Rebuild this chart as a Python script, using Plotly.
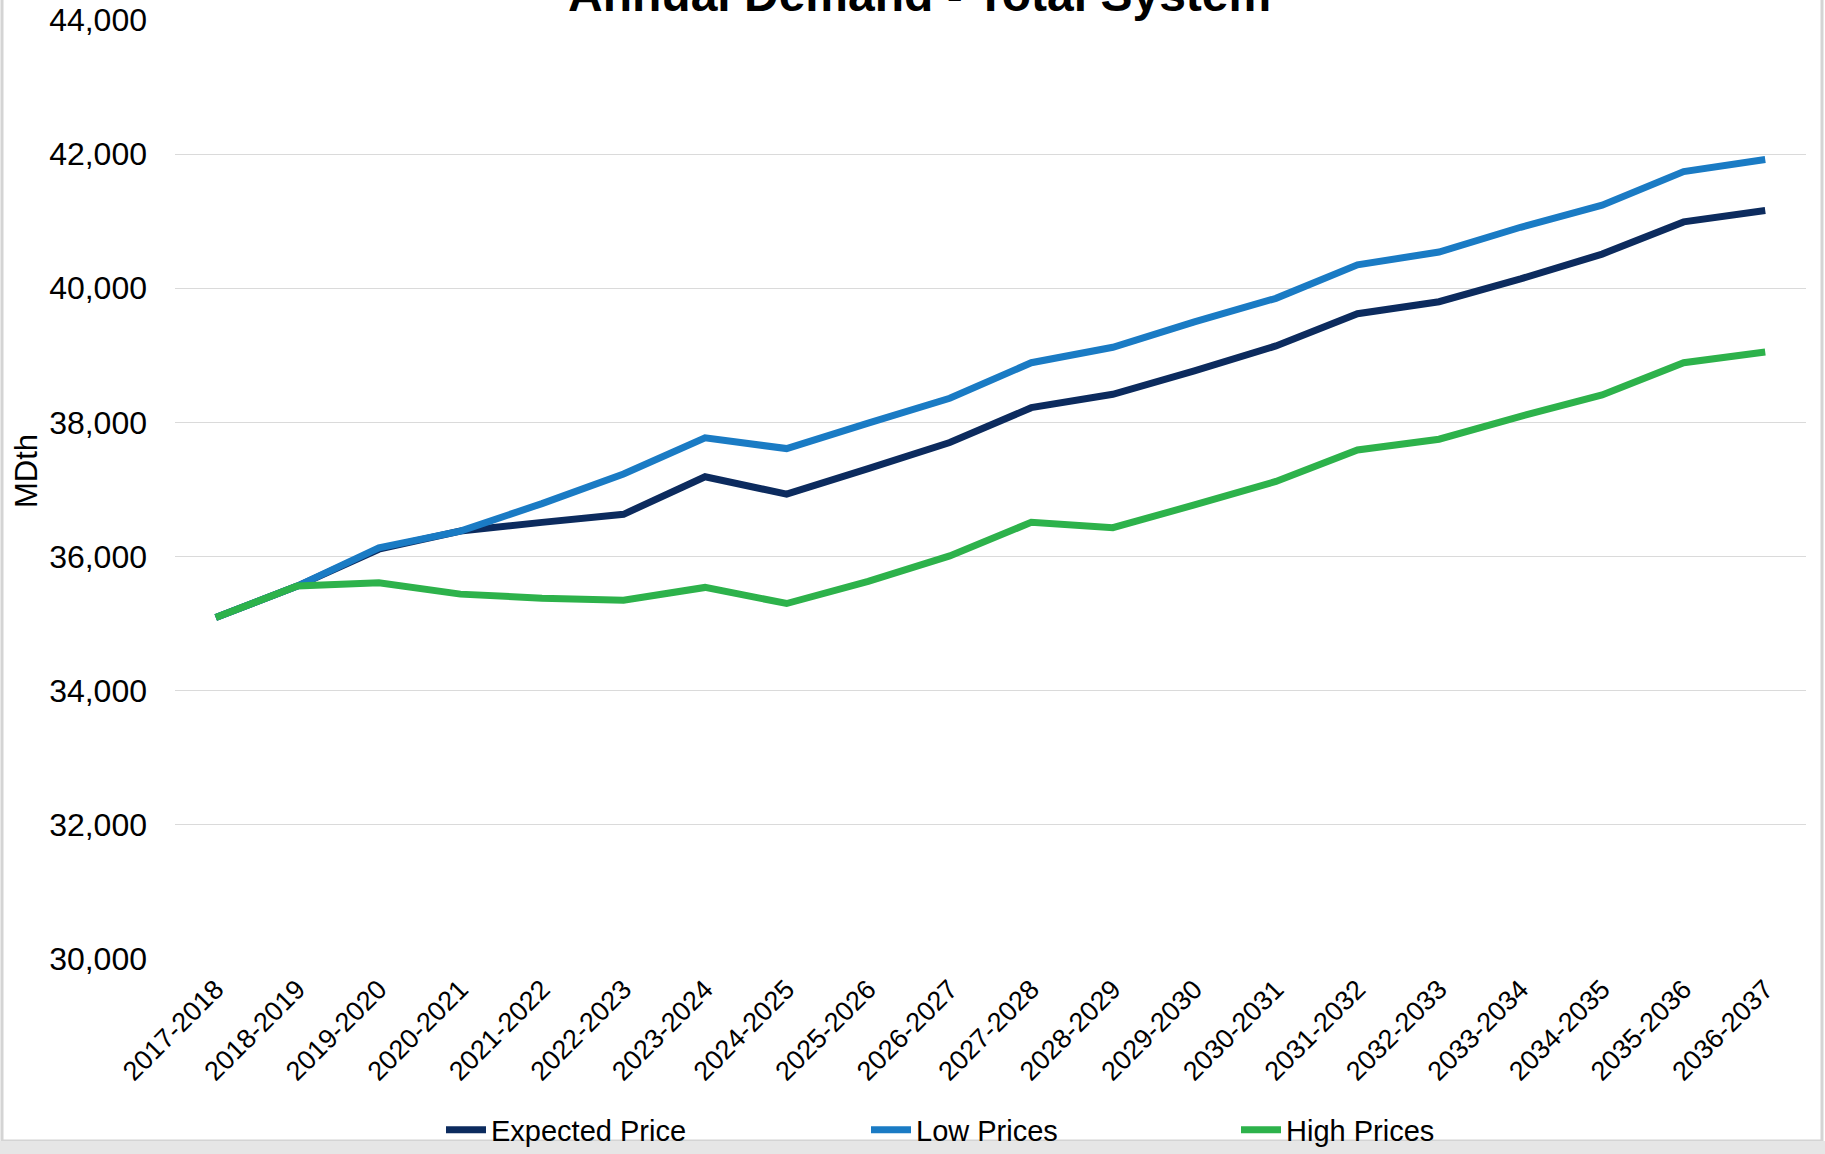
import plotly.graph_objects as go

categories = ["2017-2018", "2018-2019", "2019-2020", "2020-2021", "2021-2022", "2022-2023",
              "2023-2024", "2024-2025", "2025-2026", "2026-2027", "2027-2028", "2028-2029",
              "2029-2030", "2030-2031", "2031-2032", "2032-2033", "2033-2034", "2034-2035",
              "2035-2036", "2036-2037"]

expected_price = [35090, 35560, 36110, 36380, 36510, 36630, 37190, 36930, 37310, 37700,
                  38220, 38420, 38770, 39140, 39620, 39800, 40140, 40510, 40990, 41160]
low_prices = [35090, 35560, 36130, 36380, 36790, 37230, 37770, 37610, 37990, 38360,
              38890, 39120, 39500, 39850, 40350, 40540, 40910, 41240, 41740, 41920]
high_prices = [35090, 35560, 35610, 35440, 35380, 35350, 35540, 35300, 35630, 36010,
               36510, 36430, 36770, 37120, 37590, 37750, 38090, 38410, 38890, 39050]

y_ticks = [30000, 32000, 34000, 36000, 38000, 40000, 42000, 44000]

FONT = "Arial, Liberation Sans, sans-serif"
W, H = 1825, 1154
L, R, T, B = 175, 19, 20, 195

x_idx = list(range(len(categories)))

fig = go.Figure()
series = [
    ("Expected Price", expected_price, "#0c2b5e", "legend"),
    ("Low Prices", low_prices, "#1a7bc4", "legend2"),
    ("High Prices", high_prices, "#2db24b", "legend3"),
]
for name, vals, color, lg in series:
    fig.add_trace(go.Scatter(
        x=x_idx, y=vals, mode="lines", name=name,
        line=dict(color=color, width=7, shape="linear"),
        legend=lg,
    ))

pw = W - L - R
ph = H - T - B

def px_to_paper_x(px):
    return (px - L) / pw

def px_to_paper_y(py):
    return (H - B - py) / ph

legend_common = dict(
    orientation="h", xanchor="left", yanchor="middle",
    font=dict(family=FONT, size=29, color="#000000"),
    bgcolor="rgba(0,0,0,0)", borderwidth=0, itemwidth=40,
)

fig.update_layout(
    width=W, height=H,
    margin=dict(l=L, r=R, t=T, b=B, autoexpand=False),
    paper_bgcolor="#ffffff", plot_bgcolor="#ffffff",
    xaxis=dict(
        tickmode="array", tickvals=x_idx, ticktext=categories,
        range=[-0.5, len(categories) - 0.5],
        tickangle=-45, showgrid=False, zeroline=False, showline=False,
        ticks="", ticklabelstandoff=8,
        tickfont=dict(family=FONT, size=27, color="#000000"),
    ),
    yaxis=dict(
        range=[30000, 44000], tickmode="array", tickvals=y_ticks,
        tickformat=",d", showgrid=True, gridcolor="#dadada", gridwidth=1.2,
        zeroline=False, showline=False, ticks="", ticklabelstandoff=27,
        tickfont=dict(family=FONT, size=32, color="#000000"),
    ),
    legend=dict(x=px_to_paper_x(441), y=px_to_paper_y(1130), **legend_common),
    legend2=dict(x=px_to_paper_x(866), y=px_to_paper_y(1130), **legend_common),
    legend3=dict(x=px_to_paper_x(1236), y=px_to_paper_y(1130), **legend_common),
    showlegend=True,
)

# chart title (its top is cropped by the page edge, as in the original)
fig.add_annotation(text="<b>Annual Demand - Total System</b>", xref="paper", yref="paper",
                   x=px_to_paper_x(919), y=px_to_paper_y(-6),
                   xanchor="center", yanchor="middle", showarrow=False,
                   font=dict(family=FONT, size=48, color="#000000"))

# y-axis title, placed as in the original (slightly above plot centre)
fig.add_annotation(text="MDth", xref="paper", yref="paper",
                   x=px_to_paper_x(27), y=px_to_paper_y(471),
                   xanchor="center", yanchor="middle", textangle=-90,
                   showarrow=False, font=dict(family=FONT, size=31, color="#000000"))

# outer chart frame like the original export
fig.add_shape(type="rect", xref="paper", yref="paper",
              x0=px_to_paper_x(2), x1=px_to_paper_x(1822),
              y0=px_to_paper_y(1141), y1=px_to_paper_y(-5),
              line=dict(color="#d4d4d4", width=3), fillcolor="rgba(0,0,0,0)", layer="below")
fig.add_shape(type="rect", xref="paper", yref="paper",
              x0=px_to_paper_x(0), x1=px_to_paper_x(W),
              y0=px_to_paper_y(H), y1=px_to_paper_y(1141),
              line=dict(width=0), fillcolor="#e6e6e6", layer="below")

fig.write_html("out.html", config={"displayModeBar": False},
               post_script="document.body.style.margin='0';")
